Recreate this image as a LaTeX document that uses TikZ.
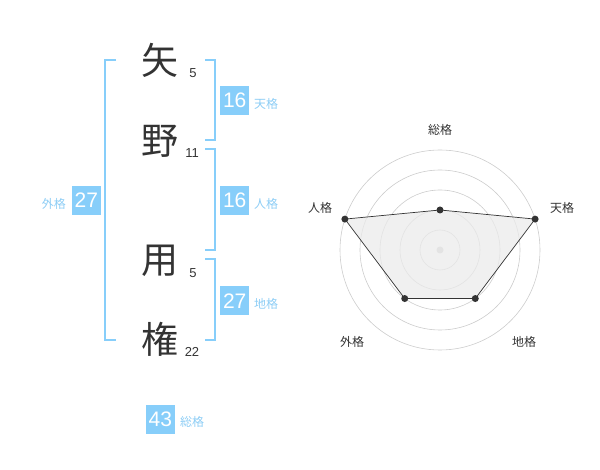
\documentclass[tikz,border=0pt]{standalone}
\usepackage{fontspec}
\usetikzlibrary{calc}
\setmainfont{Liberation Sans}
\newfontfamily\cjk{Noto Sans CJK JP}
\definecolor{boxblue}{HTML}{87CEFA}
\definecolor{lblblue}{HTML}{8DCDF5}
\definecolor{ink}{HTML}{333333}
\definecolor{ring}{HTML}{CCCCCC}
\begin{document}
\begin{tikzpicture}[x=1pt,y=-1pt,
  bigchar/.style={text=ink,font=\cjk\fontsize{37}{37}\selectfont,inner sep=0pt},
  stroke/.style={text=ink,font=\fontsize{13}{13}\selectfont,inner sep=0pt},
  numbox/.style={fill=boxblue,text=white,font=\fontsize{21}{21}\selectfont,minimum width=29pt,minimum height=29pt,inner sep=0pt},
  kaku/.style={text=lblblue,font=\cjk\fontsize{12}{12}\selectfont,inner sep=0pt},
  brk/.style={draw=boxblue,line width=2pt},
  radlbl/.style={text=ink,font=\cjk\fontsize{12}{12}\selectfont,inner sep=0pt},
  ringc/.style={draw=ring,line width=0.6pt},
  dot/.style={circle,fill=ink,inner sep=0pt,minimum size=7pt}]
\useasboundingbox (0,0) rectangle (600,470);
% characters
\node[bigchar] (c1) at (160,60) {矢};
\node[bigchar] (c2) at (160,141) {野};
\node[bigchar] (c3) at (160,261) {用};
\node[bigchar] (c4) at (160,339) {権};
\node[stroke] (s1) at (193,73) {5};
\node[stroke] (s2) at (192,153) {11};
\node[stroke] (s3) at (193,273) {5};
\node[stroke] (s4) at (192,352) {22};
% brackets
\draw[brk] (205,60) -- (215,60) -- (215,140) -- (205,140);
\draw[brk] (205,149.5) -- (215,149.5) -- (215,250) -- (205,250);
\draw[brk] (205,259.5) -- (215,259.5) -- (215,340) -- (205,340);
\draw[brk] (116,60) -- (105,60) -- (105,340) -- (116,340);
% number boxes
\node[numbox] (ten) at (234.7,100.5) {16};
\node[kaku,anchor=west] (tenl) at (254,104) {天格};
\node[numbox] (jin) at (234.7,200.5) {16};
\node[kaku,anchor=west] (jinl) at (254,204) {人格};
\node[numbox] (chi) at (234.7,301) {27};
\node[kaku,anchor=west] (chil) at (254,304) {地格};
\node[numbox] (gai) at (86.3,200.5) {27};
\node[kaku,anchor=east] (gail) at (66,204) {外格};
\node[numbox] (sou) at (160.3,419.5) {43};
\node[kaku,anchor=west] (soul) at (180,422) {総格};
% radar
\coordinate (O) at (440,250);
\foreach \r in {20,40,60,80,100} \draw[ringc] (O) circle (\r);
\node[circle,fill=ring,inner sep=0pt,minimum size=7pt] (ctr) at (O) {};
\coordinate (pS) at ($(O)+(0,-40)$);
\path (O) ++(-18:100) coordinate (pT);
\path (O) ++(54:60) coordinate (pC);
\path (O) ++(126:60) coordinate (pG);
\path (O) ++(198:100) coordinate (pJ);
\fill[black!8,opacity=0.75] (pS) -- (pT) -- (pC) -- (pG) -- (pJ) -- cycle;
\draw[ink,line width=0.7pt] (pS) -- (pT) -- (pC) -- (pG) -- (pJ) -- cycle;
\foreach \p in {pS,pT,pC,pG,pJ} \node[dot] at (\p) {};
\node[radlbl] (rS) at (440,130) {総格};
\node[radlbl] (rT) at (562,208) {天格};
\node[radlbl] (rJ) at (320,208) {人格};
\node[radlbl] (rG) at (352,342) {外格};
\node[radlbl] (rC) at (524,342) {地格};
\end{tikzpicture}
\end{document}
